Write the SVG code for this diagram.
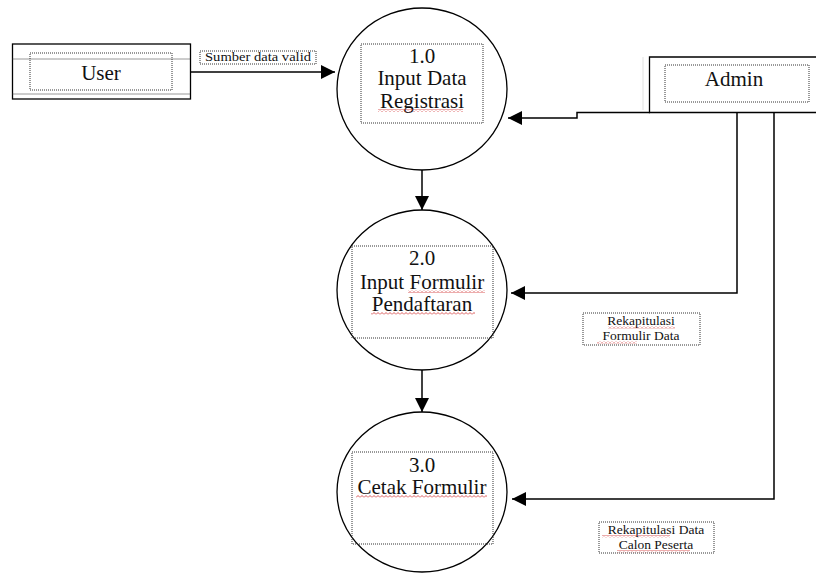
<svg xmlns="http://www.w3.org/2000/svg" width="816" height="573" viewBox="0 0 816 573">
  <style>
    .solid { fill: none; stroke: #000; stroke-width: 1.3; }
    .dot { fill: none; stroke: #333; stroke-width: 1; stroke-dasharray: 1 1; }
    .proc { fill: #fff; stroke: #000; stroke-width: 1.3; }
    .flow { fill: none; stroke: #000; stroke-width: 1.5; }
    text { font-family: "Liberation Serif", "DejaVu Serif", "Times New Roman", serif; fill: #111; text-anchor: middle; }
    .big { font-size: 21px; }
    .small { font-size: 13.5px; }
    .squig { fill: url(#wave); }
  </style>
  <defs>
    <marker id="arrow" viewBox="0 0 14 14" refX="14" refY="7" markerWidth="14" markerHeight="14" markerUnits="userSpaceOnUse" orient="auto">
      <path d="M0 0 L14 7 L0 14 Z" fill="#000"/>
    </marker>
    <!-- red spell-check wave -->
    <pattern id="wave" width="4" height="3" patternUnits="userSpaceOnUse">
      <path d="M0 2.5 L2 0.5 L4 2.5" fill="none" stroke="#d03030" stroke-width="0.8"/>
    </pattern>
  </defs>

  <!-- connectors -->
  <g id="connectors">
    <line class="flow" x1="190" y1="72" x2="335" y2="72" marker-end="url(#arrow)"/>
    <line class="flow" x1="422" y1="170" x2="422" y2="210" marker-end="url(#arrow)"/>
    <line class="flow" x1="422" y1="370" x2="422" y2="412" marker-end="url(#arrow)"/>
    <polyline class="flow" points="650,112.5 577,112.5 577,118 508,118" marker-end="url(#arrow)"/>
    <polyline class="flow" points="737,112 737,293 511,293" marker-end="url(#arrow)"/>
    <polyline class="flow" points="774,112 774,499 512,499" marker-end="url(#arrow)"/>
  </g>

  <!-- external entity: User -->
  <g id="user">
    <rect class="solid" x="12.5" y="44" width="178" height="55" fill="#fff"/>
    <line class="dot" x1="12.5" y1="59" x2="190" y2="59"/>
    <line class="dot" x1="12.5" y1="94" x2="190" y2="94"/>
    <rect class="dot" x="30" y="53" width="142" height="37"/>
    <text class="big" x="101" y="80">User</text>
  </g>

  <!-- flow label: Sumber data valid -->
  <g id="label-sumber">
    <rect class="dot" x="200" y="51" width="116" height="13"/>
    <text x="258" y="61" font-size="12.5" textLength="106" lengthAdjust="spacingAndGlyphs">Sumber data valid</text>
  </g>

  <!-- external entity: Admin -->
  <g id="admin">
    <line x1="643" y1="57" x2="643" y2="110" stroke="#ccc" stroke-width="0.6"/>
    <path class="solid" d="M816 57 L649.5 57 L649.5 112.5 L816 112.5"/>
    <rect class="dot" x="665" y="65" width="144" height="37"/>
    <text class="big" x="734" y="86">Admin</text>
  </g>

  <!-- process 1.0 -->
  <g id="proc-1">
    <ellipse class="proc" cx="422" cy="89" rx="85" ry="81"/>
    <rect class="dot" x="361" y="44" width="122" height="79"/>
    <text class="big" x="422" y="63">1.0</text>
    <text class="big" x="422" y="85">Input Data</text>
    <text class="big" x="422" y="107.5">Registrasi</text>
    <rect class="squig" x="378" y="109" width="85" height="3"/>
  </g>

  <!-- process 2.0 -->
  <g id="proc-2">
    <ellipse class="proc" cx="422" cy="290" rx="85" ry="80"/>
    <rect class="dot" x="352" y="246" width="141" height="92"/>
    <text class="big" x="422" y="265">2.0</text>
    <text class="big" x="422" y="289">Input Formulir</text>
    <text class="big" x="422" y="311">Pendaftaran</text>
    <rect class="squig" x="408" y="290" width="77" height="3"/>
    <rect class="squig" x="371" y="312" width="104" height="3"/>
  </g>

  <!-- process 3.0 -->
  <g id="proc-3">
    <ellipse class="proc" cx="422" cy="492" rx="85" ry="80"/>
    <rect class="dot" x="352" y="452" width="141" height="92"/>
    <text class="big" x="422" y="472">3.0</text>
    <text class="big" x="422" y="494">Cetak Formulir</text>
    <rect class="squig" x="356" y="495" width="131" height="3"/>
  </g>

  <!-- flow label: Rekapitulasi Formulir Data -->
  <g id="label-rekap-formulir">
    <rect class="dot" x="583" y="313" width="117" height="32"/>
    <text class="small" x="641" y="325">Rekapitulasi</text>
    <text class="small" x="641" y="340">Formulir Data</text>
    <rect class="squig" x="608" y="326" width="67" height="2.5"/>
    <rect class="squig" x="597" y="341" width="40" height="2.5"/>
  </g>

  <!-- flow label: Rekapitulasi Data Calon Peserta -->
  <g id="label-rekap-calon">
    <rect class="dot" x="599" y="522" width="115" height="31"/>
    <text class="small" x="656" y="534">Rekapitulasi Data</text>
    <text class="small" x="656" y="549">Calon Peserta</text>
    <rect class="squig" x="602" y="535" width="68" height="2.5"/>
    <rect class="squig" x="617" y="550" width="73" height="2.5"/>
  </g>
</svg>
